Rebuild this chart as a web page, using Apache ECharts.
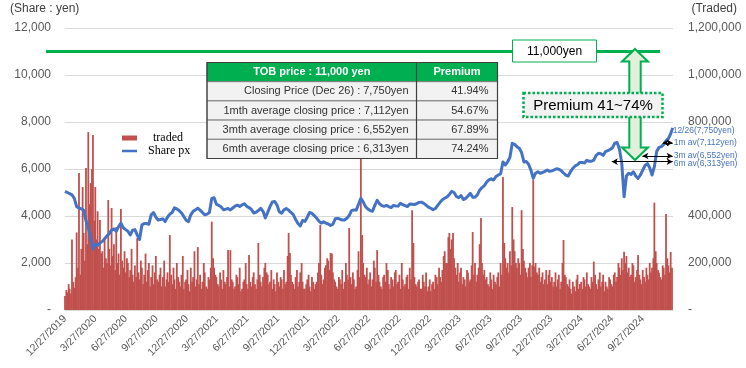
<!DOCTYPE html>
<html><head><meta charset="utf-8">
<script src="https://cdn.jsdelivr.net/npm/echarts@6/dist/echarts.min.js"></script>
<style>html,body{margin:0;padding:0;background:#fff}#c{width:746px;height:368px}</style>
</head><body><div id="c"></div>
<script>
// ---------------- data ----------------
const startDate = '2019-12-27';       // first weekly close (Friday)
const lastDate = '2024-12-26';
const lastClose = 7750;
// weekly closing price (yen), one per Friday from startDate
const priceWeekly = [
5050,5000,4950,4900,4750,4400,4340,4300,4255,3800,
3500,3100,2600,2800,2750,2850,2920,3030,3150,3250,
3400,3450,3350,3550,3700,3500,3420,3350,3190,3400,
3420,3200,3000,3617,3680,3680,3650,4050,4150,3950,
3830,3850,3880,3760,3950,4080,4150,4350,4300,4230,
4130,3980,3820,3760,4050,4200,4260,4330,4250,4150,
4050,4080,4150,4750,4780,4500,4450,4390,4270,4290,
4320,4260,4340,4420,4460,4410,4470,4520,4410,4360,
4280,4130,4160,4230,4330,4200,3920,4150,4400,4600,
4620,4470,4180,4120,4260,4320,4250,4150,4060,3850,
3680,3580,3810,3770,3950,4150,4110,4020,3910,3780,
3700,3750,3700,3660,3600,3650,3880,3900,3870,3830,
3830,3900,4020,4230,4260,4250,4500,4750,4600,4400,
4300,4230,4200,4450,4670,4520,4440,4410,4450,4400,
4360,4450,4430,4420,4540,4480,4440,4400,4510,4500,
4490,4530,4580,4590,4540,4460,4380,4330,4270,4320,
4450,4580,4690,4760,4810,4920,5050,5000,4830,4780,
4870,4700,4750,4850,4965,4800,4800,4900,5100,5210,
5290,5440,5540,5580,5530,5680,5744,5800,6300,6170,
6300,6500,7092,7050,6950,6880,6700,6300,6320,6200,
5950,5600,5820,5880,5820,5850,5900,5957,5900,5920,
5960,6010,5990,5930,5830,5740,5700,5886,6030,6130,
6180,6280,6280,6260,6370,6330,6330,6380,6580,6666,
6650,6580,6737,6780,6830,6900,7100,7130,6850,6250,
4820,5700,5820,5770,5880,5700,5600,5744,5950,6150,
6230,6050,5744,6100,6750,6920,6950,7050,7200,7290,7500
];
// traded volume (thousand shares), two sessions per week (Fri, Tue)
const volumeK = [
60,85, 75,110, 90,70, 300,120, 95,140, 330,180, 583,150, 260,523, 328,210, 604,280,
757,450, 540,600, 745,380, 523,300, 420,260, 383,240, 250,180, 300,220, 200,468, 260,190,
434,230, 280,170, 353,200, 240,150, 430,210, 180,250, 160,220, 200,140, 170,260, 150,120,
190,140, 306,160, 130,210, 180,110, 150,240, 120,170, 200,100, 140,190, 110,160, 230,130,
120,150, 180,100, 140,210, 100,130, 160,120, 319,150, 110,180, 130,90, 200,140, 120,100,
150,230, 90,120, 130,170, 110,80, 180,120, 140,250, 100,130, 268,110, 150,90, 120,200,
160,100, 90,140, 130,180, 376,220, 180,150, 140,110, 100,160, 130,90, 170,120, 110,140,
255,100, 255,130, 120,90, 100,150, 140,110, 180,80, 90,120, 130,200, 110,90, 234,120,
100,140, 160,110, 90,130, 285,150, 120,100, 140,180, 200,160, 150,110, 120,170, 90,130,
110,80, 160,120, 100,140, 130,90, 170,110, 120,230, 328,243, 150,120, 110,90, 140,170,
100,120, 160,200, 120,90, 90,110, 130,150, 100,80, 140,120, 90,110, 120,160, 200,362,
150,110, 130,180, 190,220, 210,170, 243,240, 160,130, 120,100, 90,140, 130,110, 170,90,
120,200, 150,130, 349,140, 110,160, 130,90, 100,170, 250,140, 650,319, 200,150, 140,180,
110,130, 160,100, 130,210, 180,120, 255,150, 120,100, 90,140, 150,120, 200,170, 110,90,
140,130, 100,160, 170,110, 120,150, 90,200, 130,100, 110,140, 150,90, 180,130, 425,285,
140,110, 100,120, 130,90, 90,150, 120,100, 160,80, 100,130, 80,110, 120,90, 150,140,
110,180, 140,120, 170,230, 250,200, 200,310, 328,260, 300,328, 220,180, 150,200, 120,160,
180,110, 140,130, 100,170, 160,120, 130,190, 332,150, 200,120, 150,180, 280,391, 200,150,
170,130, 140,110, 100,160, 130,90, 150,120, 110,140, 160,100, 200,150, 566,285, 220,180,
200,160, 250,190, 438,300, 250,200, 180,220, 200,150, 425,260, 210,180, 160,140, 180,200,
140,190, 553,184, 200,160, 150,180, 120,140, 160,110, 130,170, 110,150, 170,120, 140,100,
120,160, 100,130, 150,90, 120,200, 298,150, 140,110, 100,130, 90,70, 120,100, 80,130,
150,90, 110,120, 90,140, 130,100, 160,110, 100,90, 140,120, 206,150, 110,90, 130,160,
100,120, 150,80, 120,100, 90,140, 130,110, 100,150, 160,120, 140,200, 180,150, 220,170,
248,200, 230,160, 180,140, 150,200, 190,120, 140,170, 234,150, 130,110, 170,140, 120,180,
150,130, 200,160, 180,220, 457,250, 200,170, 160,140, 130,190, 180,150, 408,220, 190,160, 247,180
];
const tickLabels = ['12/27/2019','3/27/2020','6/27/2020','9/27/2020','12/27/2020','3/27/2021','6/27/2021','9/27/2021','12/27/2021','3/27/2022','6/27/2022','9/27/2022','12/27/2022','3/27/2023','6/27/2023','9/27/2023','12/27/2023','3/27/2024','6/27/2024','9/27/2024'];
const axisEnd = '2024-12-27';
const tobPrice = 11000;
const tobLabel = '11,000yen';
const premiumLabel = 'Premium 41~74%';
const averages = [
  {name:'1m av', from:'2024-11-26', value:7112},
  {name:'3m av', from:'2024-09-26', value:6552},
  {name:'6m av', from:'2024-06-26', value:6313}
];
const tableHeader = ['TOB price : 11,000 yen', 'Premium'];
const tableRows = [
  ['Closing Price (Dec 26) : 7,750yen', '41.94%'],
  ['1mth average closing price : 7,112yen', '54.67%'],
  ['3mth average closing price : 6,552yen', '67.89%'],
  ['6mth average closing price : 6,313yen', '74.24%']
];

(function(){
// ---------------- helpers ----------------
const DAY = 86400000;
function ts(s){ const [y,m,d]=s.split('-').map(Number); return Date.UTC(y,m-1,d); }
function tsMDY(s){ const [m,d,y]=s.split('/').map(Number); return Date.UTC(y,m-1,d); }
function fmtMDY(v){ const d=new Date(v); return (d.getUTCMonth()+1)+'/'+d.getUTCDate()+'/'+d.getUTCFullYear(); }
function fmtNum(v){ return v.toLocaleString('en-US'); }
const t0 = ts(startDate);
const priceData = priceWeekly.map((v,k)=>[t0+7*k*DAY, v]);
priceData.push([ts(lastDate), lastClose]);
const volData = volumeK.map((v,i)=>[t0+(Math.floor(i/2)*7+(i%2)*4)*DAY, v*1000]);
const tickTs = tickLabels.map(tsMDY);
const labelOffsets = [[0,0],[0,0],[0,2]];

const FONT = '"Liberation Sans", Arial, sans-serif';
const chart = echarts.init(document.getElementById('c'), null, {renderer:'canvas'});
chart.setOption({
  animation:false,
  backgroundColor:'#fff',
  textStyle:{fontFamily:FONT},
  title:[
    {text:'(Share : yen)', left:10, top:3, padding:0, textStyle:{fontSize:12, fontWeight:'normal', color:'#404040', fontFamily:FONT}},
    {text:'(Traded)', right:9, top:3, padding:0, textStyle:{fontSize:12, fontWeight:'normal', color:'#404040', fontFamily:FONT}}
  ],
  legend:{
    orient:'vertical', left:122, top:132, itemWidth:15, itemHeight:5, itemGap:1, padding:0,
    textStyle:{fontFamily:'"Liberation Serif", "Times New Roman", serif', fontSize:12, color:'#000'},
    data:[
      {name:'traded', icon:'rect', textStyle:{padding:[0,0,0,11]}},
      {name:'Share px', icon:'path://M0,0L15,0L15,0.01Z M0,1.2L15,1.2L15,3.8L0,3.8Z M0,5L15,5L15,4.99Z', textStyle:{padding:[0,0,0,6]}}
    ]
  },
  grid:{left:65, right:73, top:28, bottom:58, containLabel:false},
  xAxis:{
    type:'value', min:t0, max:ts(axisEnd),
    axisLine:{show:false}, axisTick:{show:false}, splitLine:{show:false},
    axisLabel:{customValues:tickTs, formatter:fmtMDY, rotate:45, fontSize:10.5, color:'#595959', margin:7, fontFamily:FONT}
  },
  yAxis:[
    {type:'value', min:0, max:12000, interval:2000,
     axisLine:{show:false}, axisTick:{show:false},
     splitLine:{lineStyle:{color:'#D9D9D9', width:1}},
     axisLabel:{formatter:v=>v===0?'-':fmtNum(v), fontSize:12, color:'#595959', margin:14, fontFamily:FONT}},
    {type:'value', min:0, max:1200000, interval:200000,
     axisLine:{show:false}, axisTick:{show:false}, splitLine:{show:false},
     axisLabel:{formatter:v=>v===0?'-':(v===600000?'':fmtNum(v)), fontSize:12, color:'#595959', margin:15, fontFamily:FONT}}
  ],
  series:[
    {name:'traded', type:'bar', yAxisIndex:1, data:volData, barWidth:1.8,
     itemStyle:{color:'#C0504D'}, z:1, silent:true},
    {name:'Share px', type:'line', yAxisIndex:0, data:priceData, symbol:'none', showSymbol:false,
     lineStyle:{color:'#4472C4', width:3, join:'round'}, itemStyle:{color:'#4472C4'}, z:3, silent:true,
     markLine:{
       silent:true, symbol:['arrow','arrow'], symbolSize:[5,6], precision:0,
       lineStyle:{color:'#000', width:1, type:'solid'},
       label:{show:true, position:'end', distance:1, color:'#4472C4', fontSize:8.5, fontFamily:FONT,
              formatter:p=>p.name},
       data:averages.map((a,i)=>[
         {name:a.name+'('+fmtNum(a.value)+'yen)', coord:[ts(a.from), a.value], label:{offset:labelOffsets[i]}},
         {coord:[ts(lastDate), a.value]}
       ])
     },
     markPoint:{
       silent:true, symbol:'circle', symbolSize:0,
       label:{show:true, position:'right', distance:0, offset:[0,3], color:'#4472C4', fontSize:8.5, fontFamily:FONT,
              formatter:'12/26('+fmtNum(lastClose)+'yen)'},
       data:[{coord:[ts(lastDate), lastClose]}]
     }
    }
  ]
});

// ---------------- overlay graphics ----------------
const yTob = chart.convertToPixel({yAxisIndex:0}, tobPrice);
const g = [];
g.push({type:'line', shape:{x1:46, y1:yTob, x2:660, y2:yTob}, style:{stroke:'#00B050', lineWidth:3}, z:50});
g.push({type:'rect', shape:{x:512.5, y:yTob-11.5, width:84, height:22}, style:{fill:'#fff', stroke:'#00B050', lineWidth:1}, z:51});
g.push({type:'text', z:52, style:{text:tobLabel, x:554.5, y:yTob+0.5, fill:'#000', font:'12px '+FONT, align:'center', verticalAlign:'middle', textAlign:'center', textVerticalAlign:'middle'}});
// double arrow
const cx=635, aTop=yTob-2.5, aBot=160, hw=13, sw=5.7, hh=12.5;
g.push({type:'polygon', z:53, shape:{points:[
  [cx,aTop],[cx+hw,aTop+hh],[cx+sw,aTop+hh],[cx+sw,aBot-hh],[cx+hw,aBot-hh],[cx,aBot],
  [cx-hw,aBot-hh],[cx-sw,aBot-hh],[cx-sw,aTop+hh],[cx-hw,aTop+hh]]},
  style:{fill:'#E2EFDA', stroke:'#00B050', lineWidth:2, lineJoin:'miter'}});
// premium box
g.push({type:'rect', z:54, shape:{x:523.5, y:93, width:139, height:24}, style:{fill:'#F2F2F2', stroke:'#00B050', lineWidth:2.5, lineDash:[2.5,2]}});
g.push({type:'text', z:55, style:{text:premiumLabel, x:593, y:105.5, fill:'#000', font:'15px '+FONT, align:'center', verticalAlign:'middle', textAlign:'center', textVerticalAlign:'middle'}});
// table
const tx0=207, tx1=416.5, tx2=497.5, ty0=62.5, rh=19.2;
g.push({type:'rect', z:60, shape:{x:tx0, y:ty0, width:tx2-tx0, height:rh}, style:{fill:'#00B050', stroke:'#595959', lineWidth:1}});
g.push({type:'text', z:62, style:{text:tableHeader[0], x:(tx0+tx1)/2, y:ty0+rh/2, fill:'#fff', font:'bold 11px '+FONT, align:'center', verticalAlign:'middle', textAlign:'center', textVerticalAlign:'middle'}});
g.push({type:'text', z:62, style:{text:tableHeader[1], x:(tx1+tx2)/2, y:ty0+rh/2, fill:'#fff', font:'bold 11px '+FONT, align:'center', verticalAlign:'middle', textAlign:'center', textVerticalAlign:'middle'}});
tableRows.forEach((r,i)=>{
  const y = ty0 + rh*(i+1);
  g.push({type:'rect', z:60, shape:{x:tx0, y:y, width:tx1-tx0, height:rh}, style:{fill:'#F2F2F2', stroke:'#7F7F7F', lineWidth:1}});
  g.push({type:'rect', z:60, shape:{x:tx1, y:y, width:tx2-tx1, height:rh}, style:{fill:'#F2F2F2', stroke:'#7F7F7F', lineWidth:1}});
  g.push({type:'text', z:62, style:{text:r[0], x:tx1-8, y:y+rh/2, fill:'#333', font:'11px '+FONT, align:'right', verticalAlign:'middle', textAlign:'right', textVerticalAlign:'middle'}});
  g.push({type:'text', z:62, style:{text:r[1], x:tx2-9, y:y+rh/2, fill:'#333', font:'11px '+FONT, align:'right', verticalAlign:'middle', textAlign:'right', textVerticalAlign:'middle'}});
});
g.push({type:'line', z:61, shape:{x1:tx1, y1:ty0, x2:tx1, y2:ty0+rh*5}, style:{stroke:'#404040', lineWidth:1.2}});
g.push({type:'rect', z:61, shape:{x:tx0, y:ty0, width:tx2-tx0, height:rh*5}, style:{fill:'none', stroke:'#404040', lineWidth:1.2}});
chart.setOption({graphic:{elements:g}});
})();
</script>
</body></html>
